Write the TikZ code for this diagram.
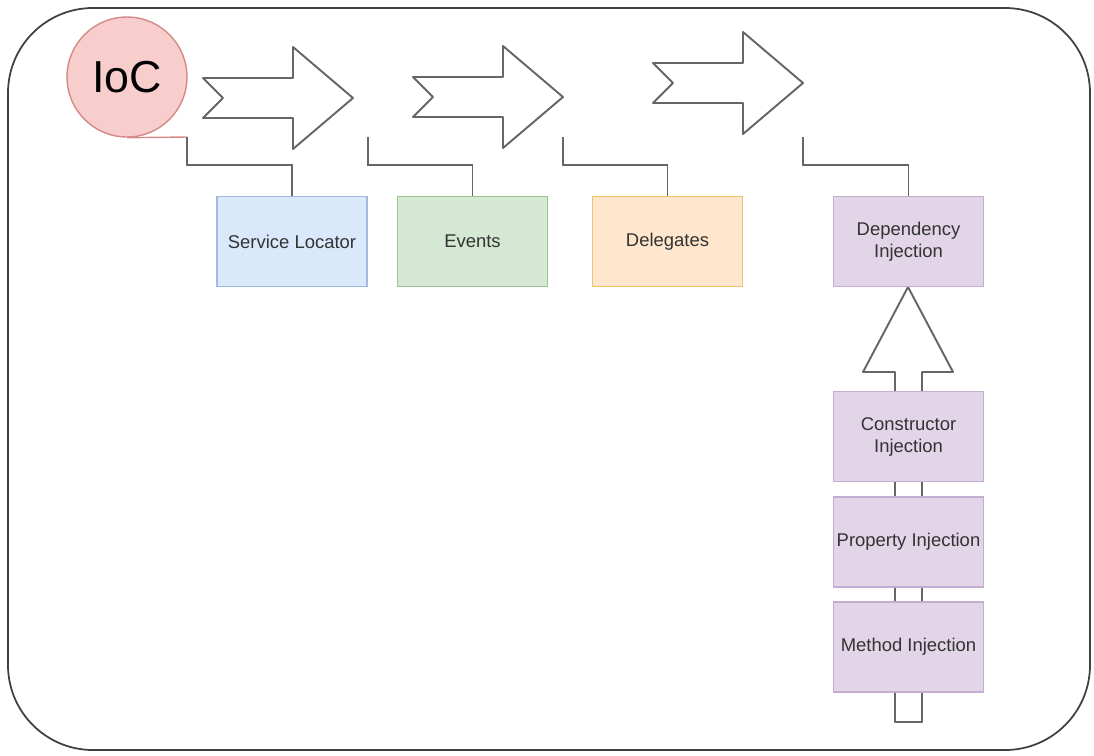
\documentclass[tikz,border=0pt]{standalone}
\usepackage{fontspec}
\setmainfont{Liberation Sans}
\definecolor{iocfill}{HTML}{F8CECC}
\definecolor{iocdraw}{HTML}{D48A87}
\definecolor{slfill}{HTML}{DAE8FC}
\definecolor{sldraw}{HTML}{9FB9E0}
\definecolor{evfill}{HTML}{D5E8D4}
\definecolor{evdraw}{HTML}{9CC590}
\definecolor{dlfill}{HTML}{FFE6CC}
\definecolor{dldraw}{HTML}{EEC36E}
\definecolor{difill}{HTML}{E1D5E7}
\definecolor{didraw}{HTML}{C3ADD1}
\definecolor{txt}{HTML}{333333}
\definecolor{lines}{HTML}{666666}
\tikzset{
  box/.style={draw, line width=0.8pt, minimum width=3cm, minimum height=1.8cm, inner xsep=0.5pt,
    align=center, text=txt, font=\fontsize{10.5}{12.5}\selectfont},
  arrowline/.style={draw=lines, line width=1.1pt, fill=white, line join=round},
  conn/.style={draw=lines, line width=1.1pt},
}
\def\flowarrow(#1){\draw[arrowline,shift={(#1)}] (0,0) -- (90,0) -- (90,-31) -- (150,20) -- (90,71) -- (90,40) -- (0,40) -- (20,20) -- cycle;}

\begin{document}
\begin{tikzpicture}[x=0.02cm, y=-0.02cm]
		%%%%% START %%%%%
		\useasboundingbox (0,0) rectangle (1094,755);
		\draw[line width=1pt, draw=black!75, rounded corners=1.7cm] (8,8) rectangle (1090,750);
		
		% arrows along the top
		\flowarrow(203,78)
		\flowarrow(413,77)
		\flowarrow(653,63)
		
		% arrow up into dependency injection
		\draw[arrowline] (908,287) -- (953,372) -- (922,372) -- (922,722) -- (895,722) -- (895,372) -- (863,372) -- cycle;
		
		\node[circle, draw=iocdraw, fill=iocfill, line width=0.8pt, minimum size=2.4cm, inner sep=0pt,
		  font=\fontsize{25.5}{30}\selectfont] (ioc) at (127,77) {IoC};
		
		\node[box, fill=slfill, draw=sldraw] (sl) at (292,241.5) {Service Locator};
		\node[box, fill=evfill, draw=evdraw] (ev) at (472.5,241.5) {Events};
		\node[box, fill=dlfill, draw=dldraw] (dl) at (667.5,241.5) {Delegates};
		\node[box, fill=difill, draw=didraw] (di) at (908.5,241.5) {Dependency\\Injection};
		
		\node[box, fill=difill, draw=didraw] (ci) at (908.5,436.5) {Constructor\\Injection};
		\node[box, fill=difill, draw=didraw] (pi) at (908.5,542) {Property Injection};
		\node[box, fill=difill, draw=didraw] (mi) at (908.5,647) {Method Injection};
		
		% connectors
		\coordinate (s1) at (187,137);
		\coordinate (s2) at (368,137);
		\coordinate (s3) at (563,137);
		\coordinate (s4) at (803,137);
		\draw[draw=iocdraw, line width=0.8pt] (ioc.south) -- (s1);
		\draw[conn] (s1) -- ++(0,28) -| (sl.north);
		\draw[conn] (s2) -- ++(0,28) -| (ev.north);
		\draw[conn] (s3) -- ++(0,28) -| (dl.north);
		\draw[conn] (s4) -- ++(0,28) -| (di.north);
		%%%%% END %%%%%
\end{tikzpicture}
\end{document}
